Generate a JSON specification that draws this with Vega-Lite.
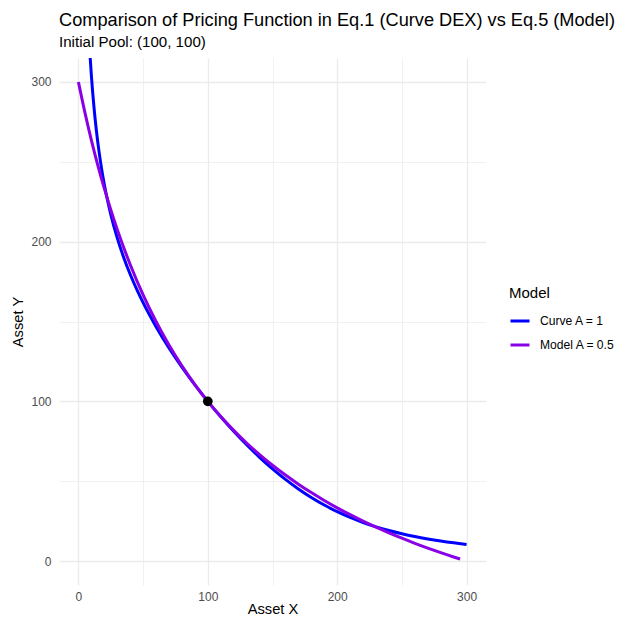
{
  "$schema": "https://vega.github.io/schema/vega-lite/v6.json",
  "width": 427,
  "height": 527,
  "autosize": "none",
  "padding": {"left": 59, "top": 58, "right": 132, "bottom": 34},
  "background": "white",
  "title": {
    "text": "Comparison of Pricing Function in Eq.1 (Curve DEX) vs Eq.5 (Model)",
    "subtitle": "Initial Pool: (100, 100)",
    "anchor": "start",
    "frame": "group",
    "font": "Liberation Sans",
    "fontSize": 18.2,
    "fontWeight": "normal",
    "color": "#000000",
    "subtitleFont": "Liberation Sans",
    "subtitleFontSize": 15.1,
    "subtitleColor": "#000000",
    "subtitlePadding": 5,
    "offset": 7
  },
  "config": {
    "view": {"stroke": null},
    "axis": {
      "domain": false,
      "ticks": false,
      "tickSize": 0,
      "labelFont": "Liberation Sans",
      "labelFontSize": 12,
      "labelColor": "#4D4D4D",
      "titleFont": "Liberation Sans",
      "titleFontSize": 14.7,
      "titleFontWeight": "normal",
      "titleColor": "#000000",
      "gridColor": "#EBEBEB"
    },
    "legend": {
      "labelFont": "Liberation Sans",
      "labelFontSize": 12.1,
      "labelColor": "#000000",
      "titleFont": "Liberation Sans",
      "titleFontSize": 15,
      "titleFontWeight": "normal",
      "titleColor": "#000000"
    }
  },
  "datasets": {
    "curves": [
      {"x": 8, "y": 330.9, "series": "Curve A = 1"},
      {"x": 9, "y": 316.5, "series": "Curve A = 1"},
      {"x": 10, "y": 304.31, "series": "Curve A = 1"},
      {"x": 12, "y": 284.47, "series": "Curve A = 1"},
      {"x": 14, "y": 268.84, "series": "Curve A = 1"},
      {"x": 16, "y": 256.05, "series": "Curve A = 1"},
      {"x": 18, "y": 245.26, "series": "Curve A = 1"},
      {"x": 20, "y": 235.95, "series": "Curve A = 1"},
      {"x": 22, "y": 227.78, "series": "Curve A = 1"},
      {"x": 25, "y": 217.12, "series": "Curve A = 1"},
      {"x": 30, "y": 202.36, "series": "Curve A = 1"},
      {"x": 35, "y": 190.14, "series": "Curve A = 1"},
      {"x": 40, "y": 179.6, "series": "Curve A = 1"},
      {"x": 45, "y": 170.26, "series": "Curve A = 1"},
      {"x": 50, "y": 161.8, "series": "Curve A = 1"},
      {"x": 60, "y": 146.78, "series": "Curve A = 1"},
      {"x": 70, "y": 133.5, "series": "Curve A = 1"},
      {"x": 80, "y": 121.46, "series": "Curve A = 1"},
      {"x": 90, "y": 110.35, "series": "Curve A = 1"},
      {"x": 100, "y": 100, "series": "Curve A = 1"},
      {"x": 110, "y": 90.32, "series": "Curve A = 1"},
      {"x": 120, "y": 81.27, "series": "Curve A = 1"},
      {"x": 130, "y": 72.82, "series": "Curve A = 1"},
      {"x": 140, "y": 64.97, "series": "Curve A = 1"},
      {"x": 150, "y": 57.74, "series": "Curve A = 1"},
      {"x": 160, "y": 51.12, "series": "Curve A = 1"},
      {"x": 170, "y": 45.15, "series": "Curve A = 1"},
      {"x": 180, "y": 39.8, "series": "Curve A = 1"},
      {"x": 190, "y": 35.06, "series": "Curve A = 1"},
      {"x": 200, "y": 30.9, "series": "Curve A = 1"},
      {"x": 210, "y": 27.28, "series": "Curve A = 1"},
      {"x": 220, "y": 24.14, "series": "Curve A = 1"},
      {"x": 230, "y": 21.43, "series": "Curve A = 1"},
      {"x": 240, "y": 19.1, "series": "Curve A = 1"},
      {"x": 250, "y": 17.08, "series": "Curve A = 1"},
      {"x": 260, "y": 15.34, "series": "Curve A = 1"},
      {"x": 270, "y": 13.84, "series": "Curve A = 1"},
      {"x": 280, "y": 12.53, "series": "Curve A = 1"},
      {"x": 290, "y": 11.39, "series": "Curve A = 1"},
      {"x": 300, "y": 10.39, "series": "Curve A = 1"},
      {"x": 0, "y": 300, "series": "Model A = 0.5"},
      {"x": 5, "y": 280.95, "series": "Model A = 0.5"},
      {"x": 10, "y": 263.64, "series": "Model A = 0.5"},
      {"x": 15, "y": 247.83, "series": "Model A = 0.5"},
      {"x": 20, "y": 233.33, "series": "Model A = 0.5"},
      {"x": 25, "y": 220, "series": "Model A = 0.5"},
      {"x": 30, "y": 207.69, "series": "Model A = 0.5"},
      {"x": 40, "y": 185.71, "series": "Model A = 0.5"},
      {"x": 50, "y": 166.67, "series": "Model A = 0.5"},
      {"x": 60, "y": 150, "series": "Model A = 0.5"},
      {"x": 70, "y": 135.29, "series": "Model A = 0.5"},
      {"x": 80, "y": 122.22, "series": "Model A = 0.5"},
      {"x": 90, "y": 110.53, "series": "Model A = 0.5"},
      {"x": 100, "y": 100, "series": "Model A = 0.5"},
      {"x": 110, "y": 90.48, "series": "Model A = 0.5"},
      {"x": 120, "y": 81.82, "series": "Model A = 0.5"},
      {"x": 130, "y": 73.91, "series": "Model A = 0.5"},
      {"x": 140, "y": 66.67, "series": "Model A = 0.5"},
      {"x": 150, "y": 60, "series": "Model A = 0.5"},
      {"x": 160, "y": 53.85, "series": "Model A = 0.5"},
      {"x": 170, "y": 48.15, "series": "Model A = 0.5"},
      {"x": 180, "y": 42.86, "series": "Model A = 0.5"},
      {"x": 190, "y": 37.93, "series": "Model A = 0.5"},
      {"x": 200, "y": 33.33, "series": "Model A = 0.5"},
      {"x": 210, "y": 29.03, "series": "Model A = 0.5"},
      {"x": 220, "y": 25, "series": "Model A = 0.5"},
      {"x": 230, "y": 21.21, "series": "Model A = 0.5"},
      {"x": 240, "y": 17.65, "series": "Model A = 0.5"},
      {"x": 250, "y": 14.29, "series": "Model A = 0.5"},
      {"x": 260, "y": 11.11, "series": "Model A = 0.5"},
      {"x": 270, "y": 8.11, "series": "Model A = 0.5"},
      {"x": 280, "y": 5.26, "series": "Model A = 0.5"},
      {"x": 290, "y": 2.56, "series": "Model A = 0.5"},
      {"x": 295, "y": 1.27, "series": "Model A = 0.5"}
    ],
    "pool": [{"x": 100, "y": 100}]
  },
  "layer": [
    {
      "data": {"name": "curves"},
      "mark": {"type": "line", "strokeWidth": 3, "clip": true, "interpolate": "monotone"},
      "encoding": {
        "x": {
          "field": "x", "type": "quantitative",
          "scale": {"domain": [-15, 315], "nice": false, "zero": false},
          "axis": {
            "title": "Asset X",
            "values": [0, 50, 100, 150, 200, 250, 300],
            "labelExpr": "datum.value % 100 == 0 ? datum.label : ''",
            "gridWidth": {"condition": {"test": "datum.value % 100 == 0", "value": 1.3}, "value": 0.7},
            "labelPadding": 6,
            "titlePadding": -1
          }
        },
        "y": {
          "field": "y", "type": "quantitative",
          "scale": {"domain": [-15, 315], "nice": false, "zero": false},
          "axis": {
            "title": "Asset Y",
            "values": [0, 50, 100, 150, 200, 250, 300],
            "labelExpr": "datum.value % 100 == 0 ? datum.label : ''",
            "gridWidth": {"condition": {"test": "datum.value % 100 == 0", "value": 1.3}, "value": 0.7},
            "labelPadding": 8,
            "titlePadding": 5
          }
        },
        "color": {
          "field": "series", "type": "nominal",
          "scale": {"domain": ["Curve A = 1", "Model A = 0.5"], "range": ["#0000FF", "#8A00E6"]},
          "legend": {
            "title": "Model",
            "orient": "none",
            "legendX": 450,
            "legendY": 228,
            "symbolType": "stroke",
            "symbolSize": 361,
            "symbolStrokeWidth": 3,
            "rowPadding": 6,
            "titlePadding": 9,
            "labelOffset": 9
          }
        }
      }
    },
    {
      "data": {"name": "pool"},
      "mark": {"type": "point", "filled": true, "size": 95, "color": "#000000", "opacity": 1},
      "encoding": {
        "x": {"field": "x", "type": "quantitative"},
        "y": {"field": "y", "type": "quantitative"}
      }
    }
  ]
}
